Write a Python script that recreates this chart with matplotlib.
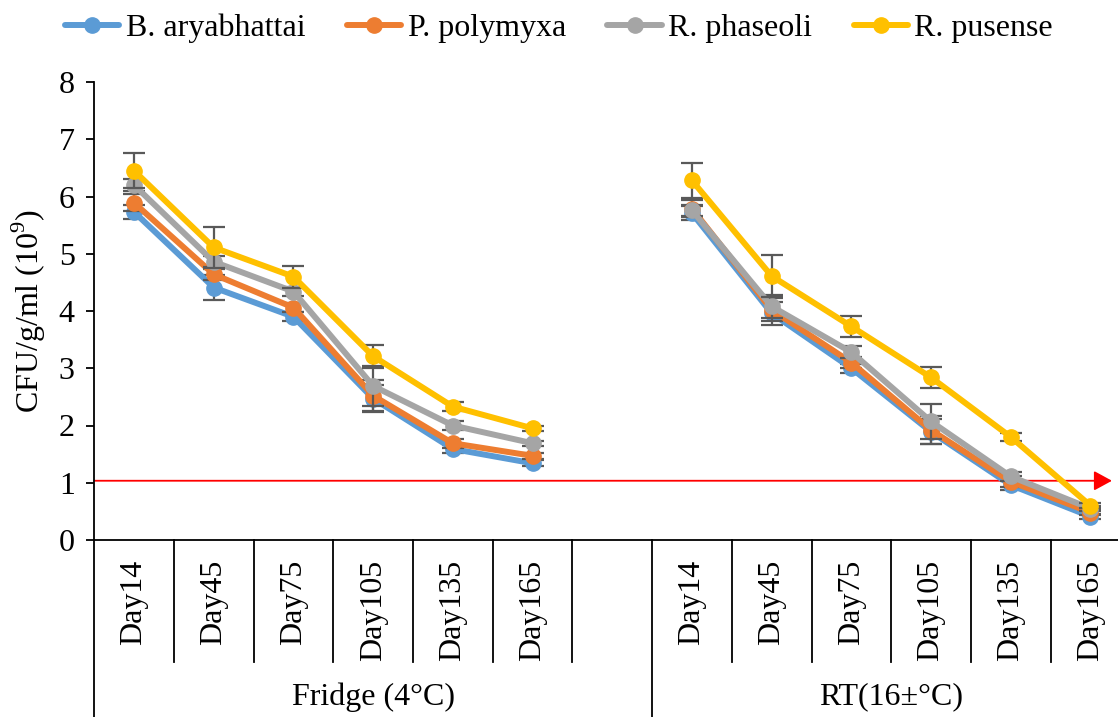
import numpy as np
import matplotlib
matplotlib.use("Agg")
import matplotlib.pyplot as plt
from matplotlib.lines import Line2D
from matplotlib.transforms import blended_transform_factory

plt.rcParams['font.family'] = ['Liberation Serif', 'DejaVu Serif']
plt.rcParams['mathtext.fontset'] = 'custom'
plt.rcParams['mathtext.rm'] = 'Liberation Serif'

FS = 23

days = ["Day14", "Day45", "Day75", "Day105", "Day135", "Day165"]
groups = ["Fridge (4°C)", "RT(16±°C)"]
strains = ["B. aryabhattai", "P. polymyxa", "R. phaseoli", "R. pusense"]
colors = ["#5B9BD5", "#ED7D31", "#A5A5A5", "#FFC000"]

# CFU counts (x10^9), fridge then room temperature
aryabhattai_fridge = [5.73, 4.41, 3.90, 2.47, 1.59, 1.34]
aryabhattai_rt = [5.71, 3.96, 3.00, 1.89, 0.96, 0.41]
polymyxa_fridge = [5.89, 4.64, 4.06, 2.52, 1.69, 1.47]
polymyxa_rt = [5.79, 4.02, 3.10, 1.92, 1.02, 0.48]
phaseoli_fridge = [6.20, 4.86, 4.34, 2.69, 2.00, 1.69]
phaseoli_rt = [5.76, 4.08, 3.28, 2.07, 1.11, 0.55]
pusense_fridge = [6.45, 5.11, 4.60, 3.21, 2.33, 1.95]
pusense_rt = [6.28, 4.61, 3.73, 2.84, 1.80, 0.60]

# standard deviations
aryabhattai_fridge_sd = [0.12, 0.22, 0.08, 0.23, 0.07, 0.05]
aryabhattai_rt_sd = [0.12, 0.20, 0.08, 0.22, 0.08, 0.04]
polymyxa_fridge_sd = [0.15, 0.10, 0.08, 0.27, 0.08, 0.05]
polymyxa_rt_sd = [0.15, 0.20, 0.10, 0.25, 0.10, 0.04]
phaseoli_fridge_sd = [0.10, 0.10, 0.08, 0.35, 0.08, 0.04]
phaseoli_rt_sd = [0.10, 0.20, 0.10, 0.30, 0.08, 0.04]
pusense_fridge_sd = [0.31, 0.36, 0.19, 0.20, 0.08, 0.04]
pusense_rt_sd = [0.31, 0.37, 0.19, 0.18, 0.07, 0.04]

threshold = 1.035

series = [
    (aryabhattai_fridge, aryabhattai_rt, aryabhattai_fridge_sd, aryabhattai_rt_sd),
    (polymyxa_fridge, polymyxa_rt, polymyxa_fridge_sd, polymyxa_rt_sd),
    (phaseoli_fridge, phaseoli_rt, phaseoli_fridge_sd, phaseoli_rt_sd),
    (pusense_fridge, pusense_rt, pusense_fridge_sd, pusense_rt_sd),
]

# one empty category separates the two storage groups
n = len(days)
x = np.arange(2 * n + 1)

fig = plt.figure(figsize=(11.18, 7.17), dpi=100)
ax = fig.add_axes([94.2 / 1118, 1 - 540 / 717, 1 - 94.2 / 1118, 458 / 717])

for i, (fr, rt, fr_sd, rt_sd) in enumerate(series):
    y = np.array(fr + [np.nan] + rt)
    e = np.array(fr_sd + [np.nan] + rt_sd)
    ax.errorbar(x, y, yerr=e, color=colors[i], lw=4.3, marker='o', ms=11,
                ecolor='#595959', elinewidth=1.6, capsize=8, capthick=1.6,
                solid_capstyle='round', solid_joinstyle='round', zorder=3 + i)

ax.annotate('', xy=(12.27, threshold), xytext=(-0.5, threshold),
            arrowprops=dict(arrowstyle='-|>,head_length=1.1,head_width=0.6',
                            color='#FF0000', lw=1.3, shrinkA=0, shrinkB=0),
            zorder=2, annotation_clip=False)

ax.set_xlim(-0.5, -0.5 + (1118 - 94.2) / 79.7)
ax.set_ylim(0, 8)
ax.set_yticks(range(9))
ax.tick_params(axis='y', labelsize=FS, length=6, width=1.3, direction='out', pad=8)
ax.set_xticks([])
for s in ['top', 'right']:
    ax.spines[s].set_visible(False)
ax.spines['left'].set_linewidth(1.3)
ax.spines['bottom'].set_linewidth(1.3)
ax.set_ylabel('CFU/g/ml (10$^{9}$)', fontsize=FS, labelpad=8)

# two-level category axis
tr = blended_transform_factory(ax.transData, ax.transAxes)
short_bot = -122 / 458
long_bot = -180 / 458
ax.plot([-0.5, -0.5], [0, long_bot], color='black', lw=1.3, transform=tr, clip_on=False)
for k in range(1, 2 * n + 1):
    xb = k - 0.5
    bot = long_bot if k == n + 1 else short_bot
    ax.plot([xb, xb], [0, bot], color='black', lw=1.3, transform=tr, clip_on=False)

for g in range(2):
    off = g * (n + 1)
    for j, d in enumerate(days):
        ax.text(off + j, -20 / 458, d, rotation=90, ha='center', va='top',
                fontsize=FS, transform=tr)

ax.text((-0.5 + n + 0.5) / 2, -157 / 458, groups[0], ha='center', va='center',
        fontsize=FS, transform=tr)
ax.text((n + 0.5 + 2 * n + 0.5) / 2, -157 / 458, groups[1], ha='center', va='center',
        fontsize=FS, transform=tr)

handles = [Line2D([], [], color=c, lw=4.3, marker='o', ms=11, solid_capstyle='round')
           for c in colors]
fig.legend(handles, strains, loc='center', bbox_to_anchor=(0.5, 1 - 28 / 717),
           ncol=4, frameon=False, fontsize=FS, handlelength=1.7,
           handletextpad=0.2, columnspacing=1.3, borderaxespad=0)

fig.savefig('out.png', dpi=100)
